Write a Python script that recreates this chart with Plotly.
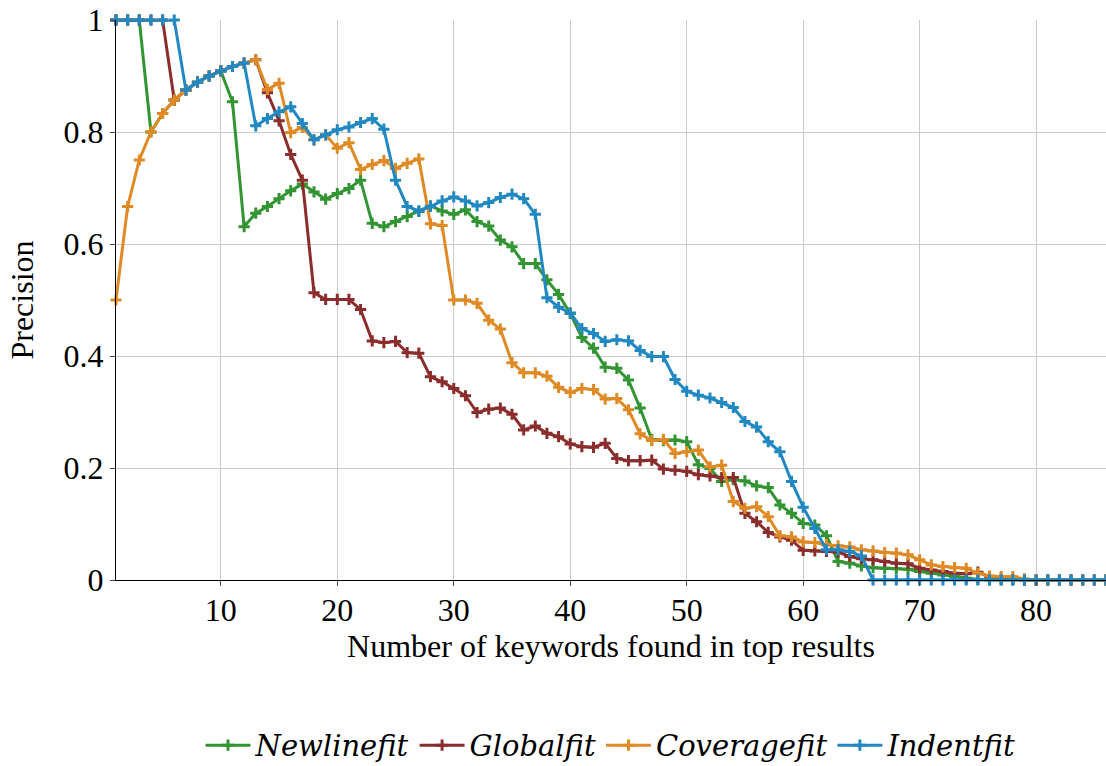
import plotly.graph_objects as go

x_vals = list(range(1, 87))

newline_fit = [1, 1, 1, 0.8, 0.833, 0.857, 0.875, 0.889, 0.9, 0.909,
               0.854, 0.631, 0.655, 0.667, 0.681, 0.695, 0.707, 0.693, 0.680, 0.690,
               0.699, 0.714, 0.637, 0.631, 0.640, 0.649, 0.658, 0.668, 0.659, 0.653,
               0.661, 0.640, 0.632, 0.607, 0.595, 0.565, 0.565, 0.536, 0.510, 0.476,
               0.433, 0.414, 0.380, 0.378, 0.357, 0.307, 0.251, 0.249, 0.250, 0.247,
               0.206, 0.199, 0.176, 0.179, 0.177, 0.168, 0.165, 0.134, 0.119, 0.101,
               0.098, 0.079, 0.033, 0.030, 0.025, 0.022, 0.021, 0.020, 0.019, 0.015,
               0.012, 0.009, 0.006, 0.003, 0.001, 0, 0, 0, 0, 0,
               0, 0, 0, 0, 0, 0]

global_fit = [1, 1, 1, 1, 1, 0.857, 0.875, 0.889, 0.9, 0.909,
              0.917, 0.923, 0.929, 0.87, 0.82, 0.76, 0.714, 0.513, 0.501, 0.501,
              0.501, 0.483, 0.427, 0.424, 0.426, 0.406, 0.405, 0.363, 0.354, 0.342,
              0.329, 0.299, 0.305, 0.307, 0.296, 0.268, 0.275, 0.262, 0.256, 0.243,
              0.238, 0.237, 0.244, 0.217, 0.213, 0.213, 0.214, 0.198, 0.196, 0.194,
              0.188, 0.186, 0.183, 0.183, 0.119, 0.104, 0.085, 0.077, 0.071, 0.053,
              0.052, 0.051, 0.050, 0.042, 0.038, 0.036, 0.033, 0.030, 0.029, 0.021,
              0.018, 0.015, 0.012, 0.011, 0.014, 0.006, 0.003, 0.001, 0, 0,
              0, 0, 0, 0, 0, 0]

coverage_fit = [0.5, 0.667, 0.75, 0.8, 0.833, 0.857, 0.875, 0.889, 0.9, 0.909,
                0.917, 0.923, 0.929, 0.876, 0.887, 0.799, 0.808, 0.786, 0.795, 0.771,
                0.781, 0.733, 0.742, 0.749, 0.735, 0.744, 0.752, 0.636, 0.633, 0.5,
                0.5, 0.494, 0.464, 0.448, 0.388, 0.370, 0.370, 0.364, 0.344, 0.335,
                0.342, 0.340, 0.323, 0.324, 0.304, 0.261, 0.249, 0.251, 0.226, 0.229,
                0.232, 0.202, 0.205, 0.140, 0.128, 0.131, 0.113, 0.079, 0.077, 0.068,
                0.067, 0.063, 0.061, 0.059, 0.054, 0.052, 0.049, 0.048, 0.045, 0.036,
                0.027, 0.024, 0.022, 0.021, 0.012, 0.007, 0.006, 0.006, 0.002, 0,
                0, 0, 0, 0, 0, 0]

indent_fit = [1, 1, 1, 1, 1, 1, 0.875, 0.889, 0.9, 0.909,
              0.917, 0.923, 0.811, 0.824, 0.836, 0.845, 0.815, 0.786, 0.795, 0.804,
              0.809, 0.817, 0.824, 0.805, 0.714, 0.667, 0.659, 0.667, 0.677, 0.684,
              0.677, 0.668, 0.674, 0.683, 0.689, 0.681, 0.653, 0.504, 0.487, 0.477,
              0.449, 0.440, 0.426, 0.429, 0.427, 0.410, 0.399, 0.399, 0.358, 0.337,
              0.330, 0.325, 0.317, 0.308, 0.283, 0.273, 0.247, 0.229, 0.176, 0.130,
              0.092, 0.054, 0.054, 0.051, 0.043, 0, 0, 0, 0, 0,
              0, 0, 0, 0, 0, 0, 0, 0, 0, 0,
              0, 0, 0, 0, 0, 0]

series_names = ["Newlinefit", "Globalfit", "Coveragefit", "Indentfit"]
series_values = [newline_fit, global_fit, coverage_fit, indent_fit]
series_colors = ["#339433", "#8c2d2d", "#e08a25", "#2288c2"]

x_tick_vals = [10, 20, 30, 40, 50, 60, 70, 80]
y_tick_vals = [0, 0.2, 0.4, 0.6, 0.8, 1]
y_tick_text = ["0", "0.2", "0.4", "0.6", "0.8", "1"]

FONT = "Liberation Serif"

fig = go.Figure()
for name, vals, col in zip(series_names, series_values, series_colors):
    fig.add_trace(go.Scatter(
        x=x_vals, y=vals, name=name, mode="lines+markers",
        line=dict(color=col, width=3),
        marker=dict(symbol="cross-thin", size=8, line=dict(color=col, width=3)),
        cliponaxis=False,
    ))

fig.update_layout(
    width=1106, height=766,
    margin=dict(l=116, r=0, t=20, b=186, autoexpand=False),
    paper_bgcolor="white", plot_bgcolor="white",
    font=dict(family=FONT, size=32, color="black"),
    showlegend=True,
    legend=dict(
        orientation="h", x=0.5, xanchor="center",
        yref="container", y=0.027, yanchor="middle",
        font=dict(family="DejaVu Serif", size=29, style="italic"),
        itemwidth=45, bgcolor="rgba(0,0,0,0)",
    ),
    xaxis=dict(
        range=[1, 86], tickvals=x_tick_vals, showgrid=True, gridcolor="#cccccc",
        gridwidth=1, zeroline=False, showline=True, linecolor="black", linewidth=1.3,
        ticks="outside", ticklen=5, tickcolor="#444444", ticklabelstandoff=-4,
        tickfont=dict(family=FONT, size=32),
        title=dict(text="Number of keywords found in top results",
                   font=dict(family=FONT, size=32), standoff=0),
    ),
    yaxis=dict(
        range=[0, 1], tickvals=y_tick_vals, ticktext=y_tick_text, showgrid=True,
        gridcolor="#cccccc", gridwidth=1, zeroline=False, showline=True,
        linecolor="black", linewidth=1.3, ticks="outside", ticklen=5,
        tickcolor="#444444", tickfont=dict(family=FONT, size=32),
        title=dict(text="Precision", font=dict(family=FONT, size=32), standoff=20),
    ),
)

fig.write_html("out.html")
